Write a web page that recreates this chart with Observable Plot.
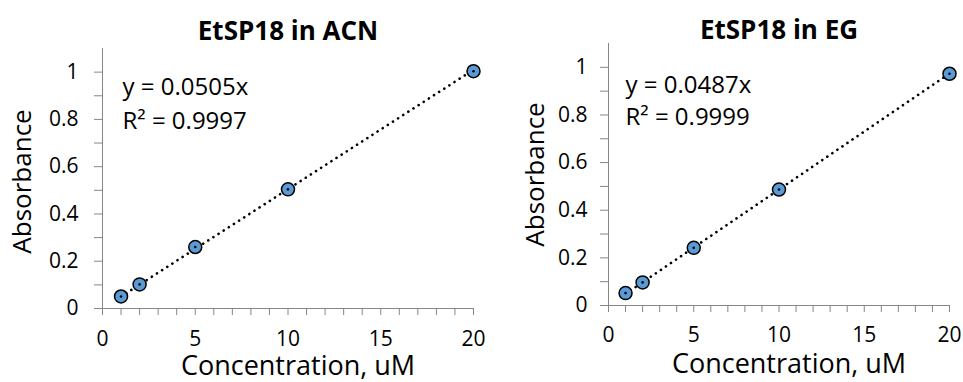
<!DOCTYPE html>
<html>
<head>
<meta charset="utf-8">
<script src="https://cdn.jsdelivr.net/npm/d3@7"></script>
<script src="https://cdn.jsdelivr.net/npm/@observablehq/plot@0.6"></script>
<style>
  html, body { margin: 0; padding: 0; background: #fff; }
  #wrap { display: flex; width: 963px; height: 382px; }
  #wrap svg { display: block; overflow: visible; }
</style>
</head>
<body>
<div id="wrap"></div>
<script>
// ---- data ----
const titles = ["EtSP18 in ACN", "EtSP18 in EG"];
const concentration = [1, 2, 5, 10, 20];
const absorbanceACN = [0.051, 0.102, 0.260, 0.504, 1.004];
const absorbanceEG = [0.052, 0.097, 0.242, 0.487, 0.973];
const slopes = [0.0505, 0.0487];
const r2Labels = ["0.9997", "0.9999"];
const xTickLabels = [0, 5, 10, 15, 20];
const yTickLabels = [0, 0.2, 0.4, 0.6, 0.8, 1];
const xLabel = "Concentration, uM";
const yLabel = "Absorbance";

// ---- layout per panel ----
const panels = [
  {title: titles[0], abs: absorbanceACN, slope: slopes[0], r2: r2Labels[0],
   width: 481, mL: 102, mR: 8, mT: 48, mB: 74, yPad: 16, xPad: 16,
   annDx: 20, ann1: 39, ann2: 73, titleDy: -17, yLabDx: -80, yLabDy: 3, xLabDy: 58, xLabDx: 10},
  {title: titles[1], abs: absorbanceEG, slope: slopes[1], r2: r2Labels[1],
   width: 482, mL: 127, mR: 14, mT: 43, mB: 77, yPad: 13, xPad: 15,
   annDx: 17, ann1: 42, ann2: 74, titleDy: -13, yLabDx: -73, yLabDy: 0, xLabDy: 59, xLabDx: 10}
];

const FONT = "'Open Sans', sans-serif";
const axisGray = "#868686";
const yAllTicks = d3.range(0, 11).map(i => i / 10);
const xAllTicks = d3.range(0, 21);

for (const p of panels) {
  const pts = concentration.map((c, i) => ({x: c, y: p.abs[i]}));
  const fit = [concentration[0], concentration[concentration.length - 1]].map(c => ({x: c, y: p.slope * c}));
  const chart = Plot.plot({
    width: p.width,
    height: 382,
    marginLeft: p.mL,
    marginRight: p.mR,
    marginTop: p.mT,
    marginBottom: p.mB,
    style: {fontFamily: FONT, color: "#000", background: "transparent", overflow: "visible"},
    x: {domain: [0, 20]},
    y: {domain: [0, 1.1]},
    marks: [
      Plot.axisY(yAllTicks, {
        tickSize: 8, tickPadding: p.yPad, stroke: axisGray, fontSize: 21, fill: "#000",
        tickFormat: d => yTickLabels.includes(Math.round(d * 10) / 10) ? String(Math.round(d * 10) / 10) : "",
        label: null
      }),
      Plot.axisX(xAllTicks, {
        tickSize: 7, tickPadding: p.xPad, stroke: axisGray, fontSize: 21, fill: "#000",
        tickFormat: d => xTickLabels.includes(d) ? String(d) : "",
        label: null
      }),
      Plot.ruleX([0], {stroke: axisGray}),
      Plot.ruleY([0], {stroke: axisGray}),
      Plot.line(fit, {x: "x", y: "y", stroke: "#000", strokeWidth: 2.6,
        strokeDasharray: "0.1 6", strokeLinecap: "round"}),
      Plot.dot(pts, {x: "x", y: "y", r: 6.5, fill: "#5b9bd5", stroke: "#000", strokeWidth: 1.5}),
      Plot.dot(pts, {x: "x", y: "y", r: 1.3, fill: "#000"}),
      Plot.text([`y = ${p.slope}x`], {
        frameAnchor: "top-left", textAnchor: "start", lineAnchor: "middle",
        dx: p.annDx, dy: p.ann1, fontSize: 24, fill: "#000"
      }),
      Plot.text([`R² = ${p.r2}`], {
        frameAnchor: "top-left", textAnchor: "start", lineAnchor: "middle",
        dx: p.annDx, dy: p.ann2, fontSize: 24, fill: "#000"
      }),
      Plot.text([p.title], {
        frameAnchor: "top", textAnchor: "middle", lineAnchor: "middle",
        dy: p.titleDy, fontSize: 26, fontWeight: "bold", fill: "#000"
      }),
      Plot.text([xLabel], {
        frameAnchor: "bottom", textAnchor: "middle", lineAnchor: "middle",
        dx: p.xLabDx, dy: p.xLabDy, fontSize: 27, fill: "#000"
      }),
      Plot.text([yLabel], {
        frameAnchor: "left", textAnchor: "middle", lineAnchor: "middle", rotate: -90,
        dx: p.yLabDx, dy: p.yLabDy, fontSize: 26, fill: "#000"
      })
    ]
  });
  document.getElementById("wrap").appendChild(chart);
}
</script>
</body>
</html>
